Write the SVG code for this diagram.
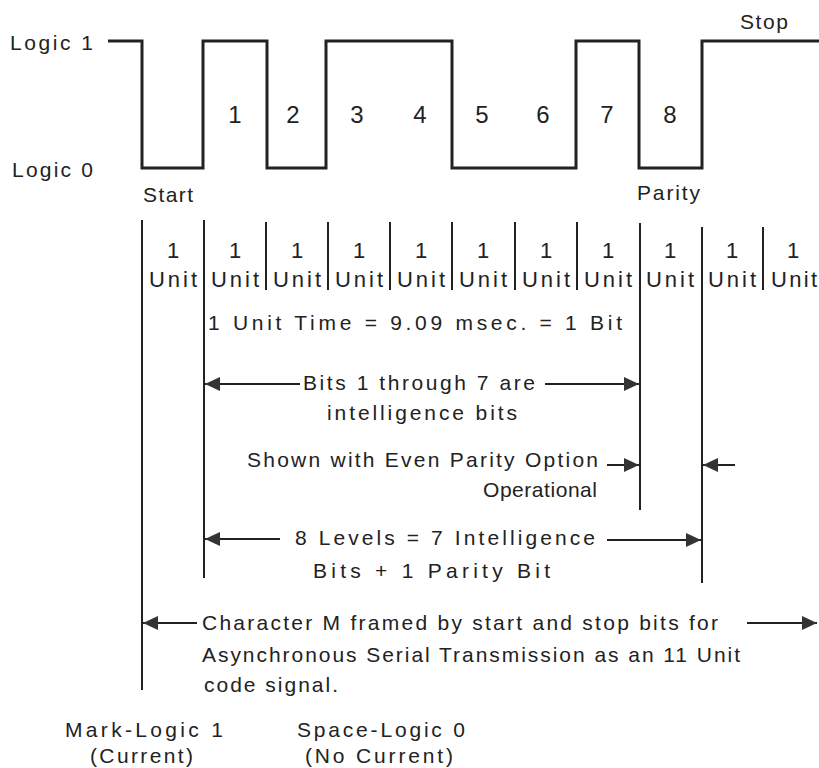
<svg xmlns="http://www.w3.org/2000/svg" width="819" height="768" viewBox="0 0 819 768">
<defs>
<style>
text{font-family:"Liberation Sans","DejaVu Sans",sans-serif;font-size:21px;fill:#222}
.d{font-size:24px;text-anchor:middle}
.u{font-size:22px;text-anchor:middle}
.wave{fill:none;stroke:#222;stroke-width:3;stroke-linejoin:miter}
.v{stroke:#222;stroke-width:2}
.a{stroke:#222;stroke-width:2;fill:none;marker-end:url(#ah)}
</style>
<marker id="ah" viewBox="0 0 15 14" refX="15" refY="7" markerWidth="15" markerHeight="14" markerUnits="userSpaceOnUse" orient="auto">
<path d="M0,0 L15,7 L0,14 z" fill="#333"/>
</marker>
</defs>
<rect width="819" height="768" fill="#fff"/>

<g id="waveform">
<path class="wave" d="M108,41 H142 V168 H203 V41 H267 V168 H326 V41 H452 V168 H576 V41 H639 V168 H702 V41 H819"/>
<text x="10" y="50" textLength="83" lengthAdjust="spacing">Logic 1</text>
<text x="12" y="177" textLength="81" lengthAdjust="spacing">Logic 0</text>
<text x="143" y="202" textLength="50" lengthAdjust="spacing">Start</text>
<text x="740" y="29" textLength="48" lengthAdjust="spacing">Stop</text>
<text x="637" y="200" textLength="63" lengthAdjust="spacing">Parity</text>
<text class="d" x="235" y="123">1</text>
<text class="d" x="293" y="123">2</text>
<text class="d" x="357" y="123">3</text>
<text class="d" x="420" y="123">4</text>
<text class="d" x="482" y="123">5</text>
<text class="d" x="543" y="123">6</text>
<text class="d" x="607" y="123">7</text>
<text class="d" x="670" y="123">8</text>
</g>

<g id="units">
<line class="v" x1="266" y1="222" x2="266" y2="290"/>
<line class="v" x1="328" y1="222" x2="328" y2="290"/>
<line class="v" x1="390" y1="222" x2="390" y2="290"/>
<line class="v" x1="452" y1="222" x2="452" y2="290"/>
<line class="v" x1="515" y1="222" x2="515" y2="290"/>
<line class="v" x1="577" y1="222" x2="577" y2="290"/>
<line class="v" x1="763" y1="227" x2="763" y2="290"/>
<text class="u" x="173" y="258">1</text>
<text class="u" x="235" y="258">1</text>
<text class="u" x="297" y="258">1</text>
<text class="u" x="359" y="258">1</text>
<text class="u" x="421" y="258">1</text>
<text class="u" x="483" y="258">1</text>
<text class="u" x="546" y="258">1</text>
<text class="u" x="608" y="258">1</text>
<text class="u" x="670" y="258">1</text>
<text class="u" x="732" y="258">1</text>
<text class="u" x="793" y="258">1</text>
<text class="u" x="173" y="287" textLength="48" lengthAdjust="spacing">Unit</text>
<text class="u" x="235" y="287" textLength="48" lengthAdjust="spacing">Unit</text>
<text class="u" x="297" y="287" textLength="48" lengthAdjust="spacing">Unit</text>
<text class="u" x="359" y="287" textLength="48" lengthAdjust="spacing">Unit</text>
<text class="u" x="421" y="287" textLength="48" lengthAdjust="spacing">Unit</text>
<text class="u" x="483" y="287" textLength="48" lengthAdjust="spacing">Unit</text>
<text class="u" x="546" y="287" textLength="48" lengthAdjust="spacing">Unit</text>
<text class="u" x="608" y="287" textLength="48" lengthAdjust="spacing">Unit</text>
<text class="u" x="670" y="287" textLength="48" lengthAdjust="spacing">Unit</text>
<text class="u" x="732" y="287" textLength="48" lengthAdjust="spacing">Unit</text>
<text class="u" x="794" y="287" textLength="46" lengthAdjust="spacing">Unit</text>
</g>

<g id="boundaries">
<line class="v" x1="142" y1="220" x2="142" y2="690"/>
<line class="v" x1="204" y1="220" x2="204" y2="578"/>
<line class="v" x1="640" y1="223" x2="640" y2="510"/>
<line class="v" x1="702" y1="227" x2="702" y2="583"/>
</g>

<g id="connectors">
<line class="a" x1="300" y1="384" x2="205" y2="384"/>
<line class="a" x1="545" y1="384" x2="639" y2="384"/>
<line class="a" x1="607" y1="465" x2="639" y2="465"/>
<line class="a" x1="735" y1="465" x2="703" y2="465"/>
<line class="a" x1="280" y1="539" x2="205" y2="539"/>
<line class="a" x1="607" y1="540" x2="701" y2="540"/>
<line class="a" x1="197" y1="623" x2="143" y2="623"/>
<line class="a" x1="747" y1="623" x2="817" y2="623"/>
</g>

<g id="labels">
<text x="208" y="330" textLength="414" lengthAdjust="spacing">1 Unit Time = 9.09 msec. = 1 Bit</text>
<text x="303" y="390" textLength="232" lengthAdjust="spacing">Bits 1 through 7 are</text>
<text x="327" y="420" textLength="190" lengthAdjust="spacing">intelligence bits</text>
<text x="247" y="467" textLength="351" lengthAdjust="spacing">Shown with Even Parity Option</text>
<text x="483" y="497" textLength="114" lengthAdjust="spacing">Operational</text>
<text x="295" y="545" textLength="300" lengthAdjust="spacing">8 Levels = 7 Intelligence</text>
<text x="313" y="578" textLength="237" lengthAdjust="spacing">Bits + 1 Parity Bit</text>
<text x="202" y="630" textLength="516" lengthAdjust="spacing">Character M framed by start and stop bits for</text>
<text x="202" y="662" textLength="538" lengthAdjust="spacing">Asynchronous Serial Transmission as an 11 Unit</text>
<text x="204" y="692" textLength="134" lengthAdjust="spacing">code signal.</text>
<text x="65" y="737" textLength="158" lengthAdjust="spacing">Mark-Logic 1</text>
<text x="297" y="737" textLength="168" lengthAdjust="spacing">Space-Logic 0</text>
<text x="90" y="763" textLength="103" lengthAdjust="spacing">(Current)</text>
<text x="305" y="763" textLength="148" lengthAdjust="spacing">(No Current)</text>
</g>
</svg>
